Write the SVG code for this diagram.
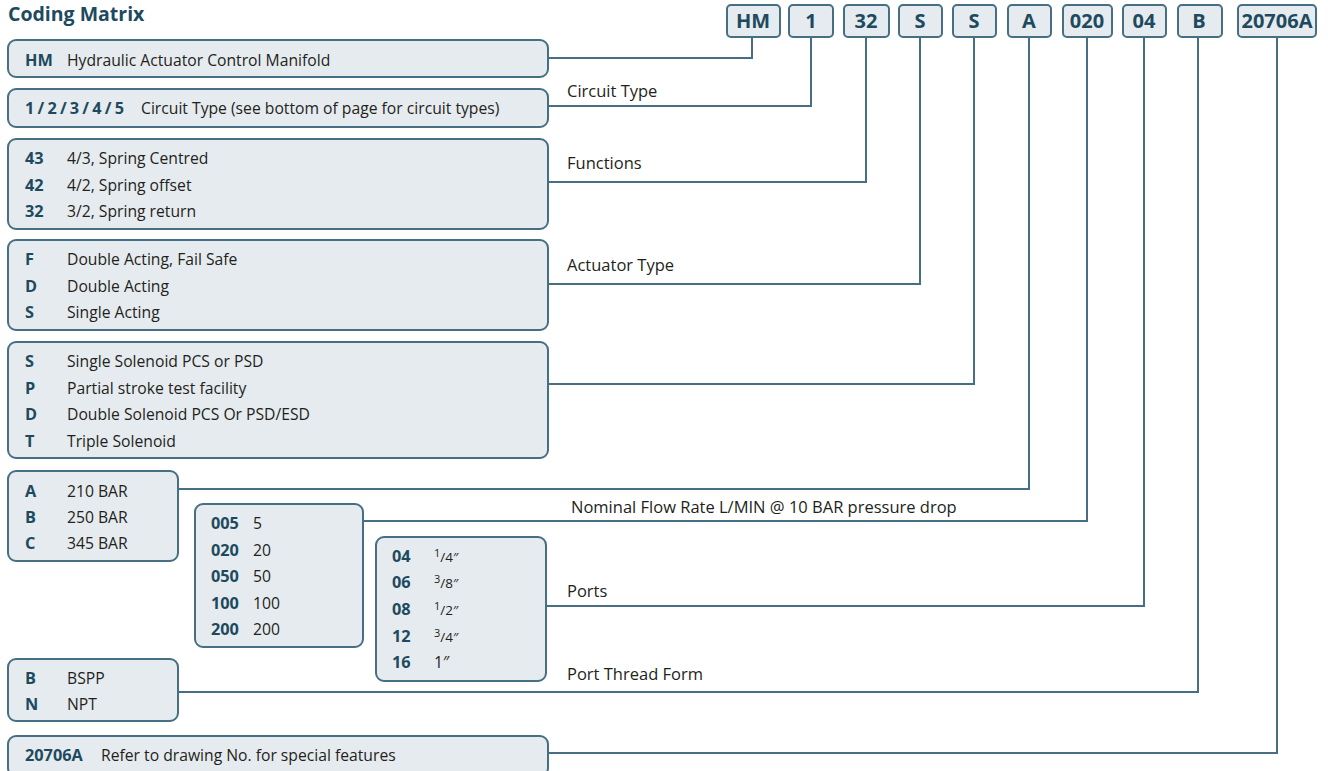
<svg xmlns="http://www.w3.org/2000/svg" width="1328" height="771" viewBox="0 0 1328 771">
<style>
.bg{fill:#ffffff}
.box{fill:#e6ebef;stroke:#466f84;stroke-width:2}
.cb{fill:#e6ebef;stroke:#466f84;stroke-width:2}
.ln{fill:none;stroke:#466f84;stroke-width:2}
text{font-family:"Open Sans","Noto Sans","Liberation Sans",sans-serif}
.t{font-size:15.7px;fill:#231f20}
.k{font-size:16.3px;font-weight:bold;fill:#1d4a5e}
.c{font-size:20px;font-weight:bold;fill:#1d4a5e;text-anchor:middle}
.title{font-size:19.5px;font-weight:bold;fill:#1d4a5e}
.lbl{font-size:16.5px;fill:#231f20}
</style>
<rect class="bg" x="0" y="0" width="1328" height="771"/>
<text class="title" x="8" y="21">Coding Matrix</text>

<g id="connectors">
<polyline class="ln" points="752,37 752,58 548,58"/>
<polyline class="ln" points="811,37 811,106 548,106"/>
<polyline class="ln" points="866,37 866,182 548,182"/>
<polyline class="ln" points="920,37 920,284 548,284"/>
<polyline class="ln" points="974,37 974,384 548,384"/>
<polyline class="ln" points="1029,37 1029,489 178,489"/>
<polyline class="ln" points="1087,37 1087,521 363,521"/>
<polyline class="ln" points="1144,37 1144,606 546,606"/>
<polyline class="ln" points="1198,37 1198,692 178,692"/>
<polyline class="ln" points="1277,37 1277,753 548,753"/>
<text class="lbl" x="567" y="97">Circuit Type</text>
<text class="lbl" x="567" y="169">Functions</text>
<text class="lbl" x="567" y="271">Actuator Type</text>
<text class="lbl" x="571" y="513">Nominal Flow Rate L/MIN @ 10 BAR pressure drop</text>
<text class="lbl" x="567" y="597">Ports</text>
<text class="lbl" x="567" y="680">Port Thread Form</text>
</g>

<g id="codes">
<rect class="cb" x="727" y="5" width="53" height="32" rx="4"/><text class="c" x="753" y="28">HM</text>
<rect class="cb" x="789" y="5" width="44" height="32" rx="4"/><text class="c" x="811" y="28">1</text>
<rect class="cb" x="844" y="5" width="45" height="32" rx="4"/><text class="c" x="866" y="28">32</text>
<rect class="cb" x="899" y="5" width="43" height="32" rx="4"/><text class="c" x="920" y="28">S</text>
<rect class="cb" x="953" y="5" width="43" height="32" rx="4"/><text class="c" x="974" y="28">S</text>
<rect class="cb" x="1008" y="5" width="43" height="32" rx="4"/><text class="c" x="1029" y="28">A</text>
<rect class="cb" x="1063" y="5" width="49" height="32" rx="4"/><text class="c" x="1087" y="28">020</text>
<rect class="cb" x="1123" y="5" width="43" height="32" rx="4"/><text class="c" x="1144" y="28">04</text>
<rect class="cb" x="1178" y="5" width="44" height="32" rx="4"/><text class="c" x="1199" y="28">B</text>
<rect class="cb" x="1238" y="5" width="78" height="32" rx="4"/><text class="c" x="1277" y="28">20706A</text>
</g>

<g id="n-hm">
<rect class="box" x="8" y="40" width="540" height="37" rx="8"/>
<text class="k" x="25" y="66">HM</text><text class="t" x="67" y="66">Hydraulic Actuator Control Manifold</text>
</g>
<g id="n-circuit">
<rect class="box" x="8" y="89" width="540" height="38" rx="8"/>
<text class="k" x="25" y="114" textLength="99" lengthAdjust="spacing">1 / 2 / 3 / 4 / 5</text><text class="t" x="141" y="114">Circuit Type (see bottom of page for circuit types)</text>
</g>
<g id="n-functions">
<rect class="box" x="8" y="139" width="540" height="90" rx="8"/>
<text class="k" x="25" y="164">43</text><text class="t" x="67" y="164">4/3, Spring Centred</text>
<text class="k" x="25" y="191">42</text><text class="t" x="67" y="191">4/2, Spring offset</text>
<text class="k" x="25" y="217">32</text><text class="t" x="67" y="217">3/2, Spring return</text>
</g>
<g id="n-actuator">
<rect class="box" x="8" y="240" width="540" height="90" rx="8"/>
<text class="k" x="25" y="265">F</text><text class="t" x="67" y="265">Double Acting, Fail Safe</text>
<text class="k" x="25" y="292">D</text><text class="t" x="67" y="292">Double Acting</text>
<text class="k" x="25" y="318">S</text><text class="t" x="67" y="318">Single Acting</text>
</g>
<g id="n-solenoid">
<rect class="box" x="8" y="342" width="540" height="116" rx="8"/>
<text class="k" x="25" y="367">S</text><text class="t" x="67" y="367">Single Solenoid PCS or PSD</text>
<text class="k" x="25" y="394">P</text><text class="t" x="67" y="394">Partial stroke test facility</text>
<text class="k" x="25" y="420">D</text><text class="t" x="67" y="420">Double Solenoid PCS Or PSD/ESD</text>
<text class="k" x="25" y="447">T</text><text class="t" x="67" y="447">Triple Solenoid</text>
</g>
<g id="n-pressure">
<rect class="box" x="8" y="471" width="170" height="90" rx="8"/>
<text class="k" x="25" y="497">A</text><text class="t" x="67" y="497">210 BAR</text>
<text class="k" x="25" y="523">B</text><text class="t" x="67" y="523">250 BAR</text>
<text class="k" x="25" y="549">C</text><text class="t" x="67" y="549">345 BAR</text>
</g>
<g id="n-flow">
<rect class="box" x="195" y="504" width="168" height="143" rx="8"/>
<text class="k" x="211" y="529">005</text><text class="t" x="253" y="529">5</text>
<text class="k" x="211" y="556">020</text><text class="t" x="253" y="556">20</text>
<text class="k" x="211" y="582">050</text><text class="t" x="253" y="582">50</text>
<text class="k" x="211" y="609">100</text><text class="t" x="253" y="609">100</text>
<text class="k" x="211" y="635">200</text><text class="t" x="253" y="635">200</text>
</g>
<g id="n-ports">
<rect class="box" x="376" y="537" width="170" height="144" rx="8"/>
<text class="k" x="392" y="562">04</text><text class="t" x="434" y="562"><tspan font-size="11" dy="-5">1</tspan><tspan font-size="13.5" dy="5">/4″</tspan></text>
<text class="k" x="392" y="588">06</text><text class="t" x="434" y="588"><tspan font-size="11" dy="-5">3</tspan><tspan font-size="13.5" dy="5">/8″</tspan></text>
<text class="k" x="392" y="615">08</text><text class="t" x="434" y="615"><tspan font-size="11" dy="-5">1</tspan><tspan font-size="13.5" dy="5">/2″</tspan></text>
<text class="k" x="392" y="642">12</text><text class="t" x="434" y="642"><tspan font-size="11" dy="-5">3</tspan><tspan font-size="13.5" dy="5">/4″</tspan></text>
<text class="k" x="392" y="668">16</text><text class="t" x="434" y="668">1″</text>
</g>
<g id="n-thread">
<rect class="box" x="8" y="659" width="170" height="62" rx="8"/>
<text class="k" x="25" y="684">B</text><text class="t" x="67" y="684">BSPP</text>
<text class="k" x="25" y="710">N</text><text class="t" x="67" y="710">NPT</text>
</g>
<g id="n-special">
<rect class="box" x="8" y="736" width="540" height="40" rx="8"/>
<text class="k" x="25" y="761">20706A</text><text class="t" x="101" y="761">Refer to drawing No. for special features</text>
</g>
</svg>
